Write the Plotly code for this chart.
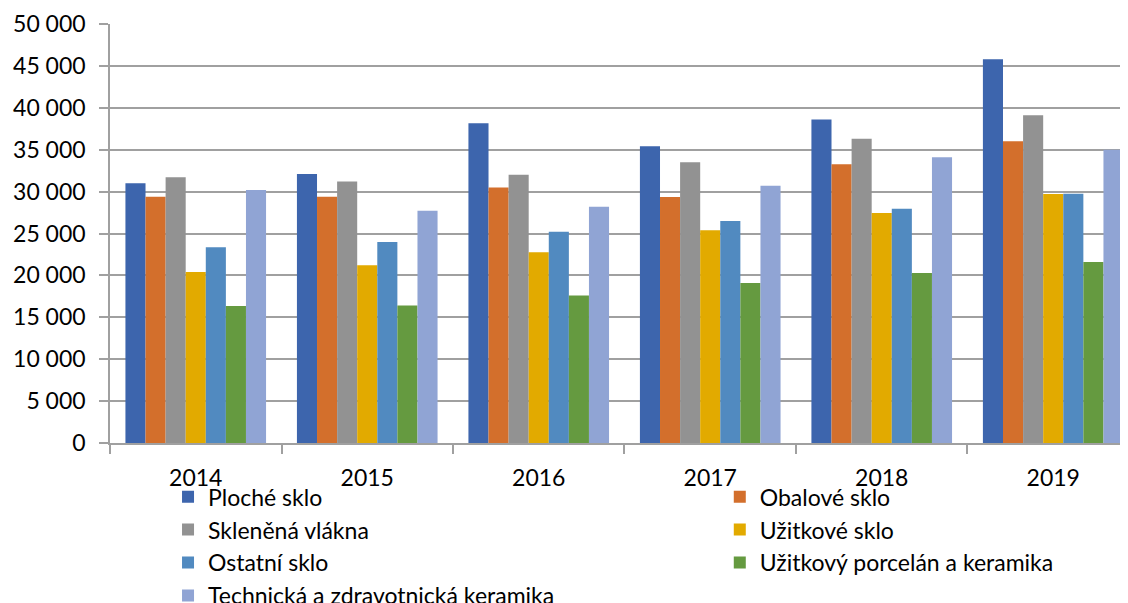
import plotly.graph_objects as go

years = ["2014", "2015", "2016", "2017", "2018", "2019"]

series_names = [
    "Ploché sklo",
    "Obalové sklo",
    "Skleněná vlákna",
    "Užitkové sklo",
    "Ostatní sklo",
    "Užitkový porcelán a keramika",
    "Technická a zdravotnická keramika",
]

ploche_sklo = [31000, 32100, 38150, 35400, 38600, 45800]
obalove_sklo = [29400, 29400, 30500, 29350, 33250, 36000]
sklenena_vlakna = [31700, 31200, 32000, 33500, 36300, 39100]
uzitkove_sklo = [20400, 21200, 22750, 25400, 27450, 29700]
ostatni_sklo = [23350, 24000, 25200, 26500, 27950, 29750]
porcelan_keramika = [16350, 16400, 17600, 19100, 20300, 21600]
technicka_keramika = [30200, 27700, 28200, 30700, 34100, 35000]

values = [ploche_sklo, obalove_sklo, sklenena_vlakna, uzitkove_sklo,
          ostatni_sklo, porcelan_keramika, technicka_keramika]

colors = ["#3d65ad", "#d36f2c", "#929292", "#e2aa00", "#518ac0", "#659a40", "#90a4d4"]

y_ticks = list(range(0, 50001, 5000))
y_tick_text = [f"{v:,}".replace(",", " ") for v in y_ticks]

FONT = "Lato, 'Open Sans', sans-serif"

fig = go.Figure()
for i, (name, vals, col) in enumerate(zip(series_names, values, colors)):
    fig.add_trace(go.Bar(
        x=years, y=vals, name=name,
        marker=dict(color=col, line=dict(width=0)),
        legend="legend" if i % 2 == 0 else "legend2",
        legendgroup=name,
    ))

legend_common = dict(
    orientation="v",
    font=dict(family=FONT, size=23, color="#000000"),
    bgcolor="rgba(0,0,0,0)",
    tracegroupgap=0,
    itemwidth=30,
    yanchor="top",
    xanchor="left",
    y=-0.077,
)

# page body adds an 8px offset, so margins are set to land the plot
# area at the reference position in the screenshot
fig.update_layout(
    width=1128, height=603,
    template="plotly_white",
    plot_bgcolor="white", paper_bgcolor="white",
    barmode="group",
    bargap=0.18, bargroupgap=0,
    margin=dict(l=102, r=8, t=16, b=168, autoexpand=False),
    font=dict(family=FONT, size=23, color="#000000"),
    legend=dict(x=0.057, **legend_common),
    legend2=dict(x=0.599, **legend_common),
    xaxis=dict(
        type="category",
        range=[-0.5, 5.436],
        showline=True, linecolor="#a0a0a0", linewidth=1.5,
        ticks="outside", tickson="boundaries", ticklen=9,
        tickcolor="#a0a0a0", tickwidth=1.5,
        showgrid=False,
        tickfont=dict(family=FONT, size=23),
        ticklabelstandoff=14,
    ),
    yaxis=dict(
        range=[0, 50000],
        tickvals=y_ticks, ticktext=y_tick_text,
        showline=True, linecolor="#a0a0a0", linewidth=1.5,
        ticks="outside", ticklen=9, tickcolor="#a0a0a0", tickwidth=1.5,
        showgrid=True, gridcolor="#a0a0a0", gridwidth=1.5,
        zeroline=False,
        tickfont=dict(family=FONT, size=23),
        ticklabelstandoff=9,
    ),
)

fig.write_html("out.html")
